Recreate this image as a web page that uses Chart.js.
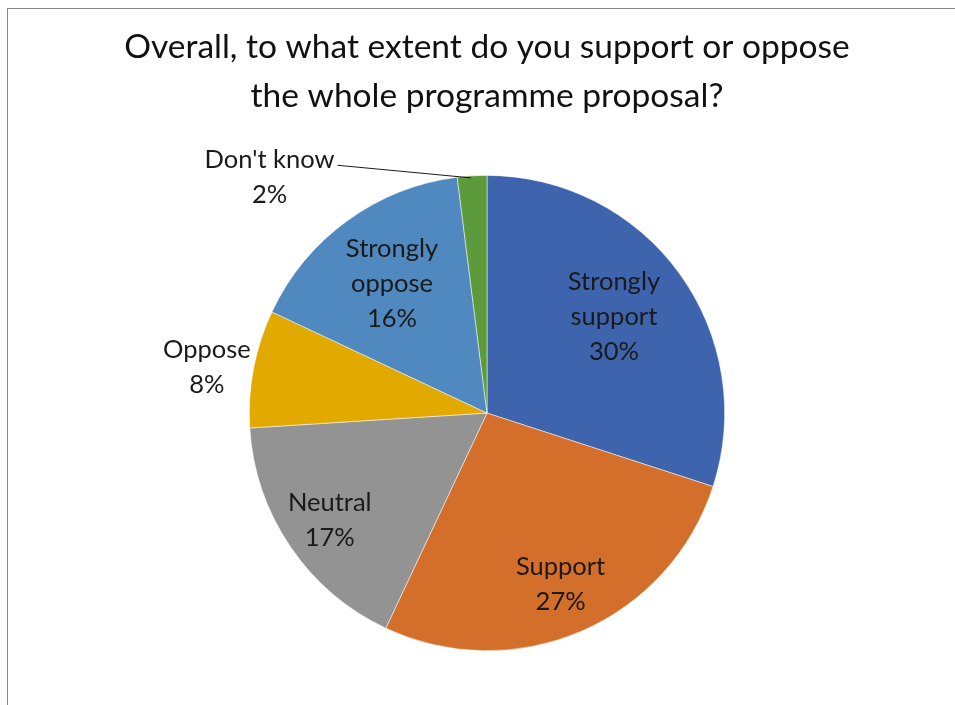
<!DOCTYPE html>
<html>
<head>
<meta charset="utf-8">
<script src="https://cdn.jsdelivr.net/npm/chart.js@4.4.1/dist/chart.umd.min.js"></script>
<style>
    html, body { margin: 0; padding: 0; background: #fff; overflow: hidden; }
    #wrap { position: relative; width: 955px; height: 705px; }
    #frame { position: absolute; left: 7px; top: 8px; width: 1000px; height: 1000px; border: 1px solid #888; pointer-events: none; }
</style>
</head>
<body>
<div id="wrap">
    <canvas id="pie-chart" width="955" height="705"></canvas>
    <div id="frame"></div>
</div>
<script>
const categories = ['Strongly support', 'Support', 'Neutral', 'Oppose', 'Strongly oppose', "Don't know"];
const percentages = [30, 27, 17, 8, 16, 2];
const sliceColors = ['#3E64AE', '#D46E2B', '#939393', '#E2AA00', '#4F89BF', '#5C9A3C'];

// label text split over lines, like Excel wraps them
const labelLines = [['Strongly', 'support'], ['Support'], ['Neutral'], ['Oppose'], ['Strongly', 'oppose'], ["Don't know"]];

const FONT = 'Lato, "Open Sans", sans-serif';

// draws the data labels from the arc geometry
const pieLabels = {
    id: 'pieLabels',
    afterDatasetsDraw(chart) {
        const ctx = chart.ctx;
        const meta = chart.getDatasetMeta(0);
        // radial position as a share of the radius, plus a small vertical nudge
        const place = [
            { r: 0.66, dy: -4 },
            { r: 0.78, dy: 1 },
            { r: 0.8, dy: 0 },
            { r: 1.2, dy: 8 },
            { r: 0.68, dy: 1 },
            { leader: true }
        ];
        ctx.save();
        ctx.font = '25.5px ' + FONT;
        ctx.fillStyle = '#1a1a1a';
        ctx.textAlign = 'center';
        ctx.textBaseline = 'middle';
        const lh = 35;
        meta.data.forEach((arc, i) => {
            const p = arc.getProps(['x', 'y', 'startAngle', 'endAngle', 'outerRadius'], true);
            const mid = (p.startAngle + p.endAngle) / 2;
            const lines = labelLines[i].concat([percentages[i] + '%']);
            let cx, cy;
            if (place[i].leader) {
                // outside label with a leader line to the slice edge
                const ex = p.x + Math.cos(mid) * p.outerRadius;
                const ey = p.y + Math.sin(mid) * p.outerRadius;
                cx = p.x - 0.915 * p.outerRadius;
                cy = p.y - 0.99 * p.outerRadius;
                const tw = ctx.measureText(labelLines[i][0]).width;
                ctx.strokeStyle = '#1a1a1a';
                ctx.lineWidth = 1;
                ctx.beginPath();
                ctx.moveTo(cx + tw / 2 + 3, cy - lh / 2 + 5);
                ctx.lineTo(ex - 1, ey + 2);
                ctx.stroke();
            } else {
                cx = p.x + Math.cos(mid) * p.outerRadius * place[i].r;
                cy = p.y + Math.sin(mid) * p.outerRadius * place[i].r + place[i].dy;
            }
            const top = cy - (lines.length - 1) * lh / 2;
            lines.forEach((t, k) => ctx.fillText(t, cx, top + k * lh));
        });
        ctx.restore();
    }
};

new Chart(document.getElementById('pie-chart').getContext('2d'), {
    type: 'pie',
    data: {
        labels: categories,
        datasets: [{
            data: percentages,
            backgroundColor: sliceColors,
            borderColor: '#ffffff',
            borderWidth: 0.5
        }]
    },
    options: {
        responsive: false,
        animation: false,
        layout: { padding: { left: 19, right: 0, top: 0, bottom: 54 } },
        plugins: {
            legend: { display: false },
            tooltip: { enabled: false },
            title: {
                display: true,
                text: ['Overall, to what extent do you support or oppose', 'the whole programme proposal?'],
                color: '#111',
                font: { family: FONT, size: 33.5, weight: 'normal', lineHeight: 1.45 },
                padding: { top: 23, bottom: 55 }
            }
        }
    },
    plugins: [pieLabels]
});
</script>
</body>
</html>
